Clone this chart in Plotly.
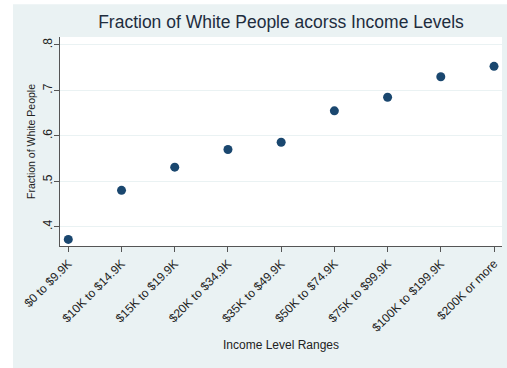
import plotly.graph_objects as go

categories = ["$0 to $9.9K", "$10K to $14.9K", "$15K to $19.9K", "$20K to $34.9K",
              "$35K to $49.9K", "$50K to $74.9K", "$75K to $99.9K", "$100K to $199.9K",
              "$200K or more"]
fraction_white = [0.372, 0.480, 0.531, 0.570, 0.586, 0.655, 0.685, 0.730, 0.753]
y_ticks = [0.4, 0.5, 0.6, 0.7, 0.8]
y_tick_labels = [".4", ".5", ".6", ".7", ".8"]

BG = "#EAF2F3"
FONT = "Liberation Sans, Arial, sans-serif"

fig = go.Figure()
fig.add_trace(go.Scatter(
    x=list(range(len(categories))), y=fraction_white, mode="markers",
    marker=dict(color="#1A476F", size=9, line=dict(width=0)),
    showlegend=False, hoverinfo="skip"))

# white outer border strips (left and top)
fig.add_shape(type="rect", xref="paper", yref="paper", x0=-0.2, x1=-0.1063,
              y0=-1, y1=1.3, fillcolor="white", line=dict(width=0), layer="below")
fig.add_shape(type="rect", xref="paper", yref="paper", x0=-0.2, x1=1.1,
              y0=1.157, y1=1.3, fillcolor="white", line=dict(width=0), layer="below")

fig.update_layout(
    width=507, height=368,
    margin=dict(l=60, r=5, t=37, b=122, autoexpand=False),
    paper_bgcolor=BG, plot_bgcolor="white",
    font=dict(family=FONT, color="#222222"),
    title=dict(text="Fraction of White People acorss Income Levels",
               x=0.5, xref="paper", xanchor="center",
               y=1 - 22 / 368, yref="container", yanchor="middle",
               font=dict(size=17.5, color="#1E2D3E", family=FONT)),
    xaxis=dict(range=[-0.156, 8.15], tickmode="array",
               tickvals=list(range(len(categories))), ticktext=categories,
               tickangle=-45, tickfont=dict(size=12, color="#222222"),
               showgrid=False, zeroline=False, showline=True, linecolor="#555555",
               linewidth=1, ticks="outside", ticklen=5, tickcolor="#555555",
               title=dict(text="Income Level Ranges", font=dict(size=12, color="#222222"),
                          standoff=6)),
    yaxis=dict(range=[0.3575, 0.8176], tickmode="array", tickvals=y_ticks,
               ticktext=y_tick_labels, tickangle=-90,
               tickfont=dict(size=12, color="#222222"),
               ticklabelstandoff=-3,
               showgrid=True, gridcolor=BG, gridwidth=1, zeroline=False,
               showline=True, linecolor="#555555", linewidth=1,
               ticks="outside", ticklen=5, tickcolor="#555555",
               title=dict(text="Fraction of White People",
                          font=dict(size=10.5, color="#222222"), standoff=3)),
)

fig.write_html("out.html")
